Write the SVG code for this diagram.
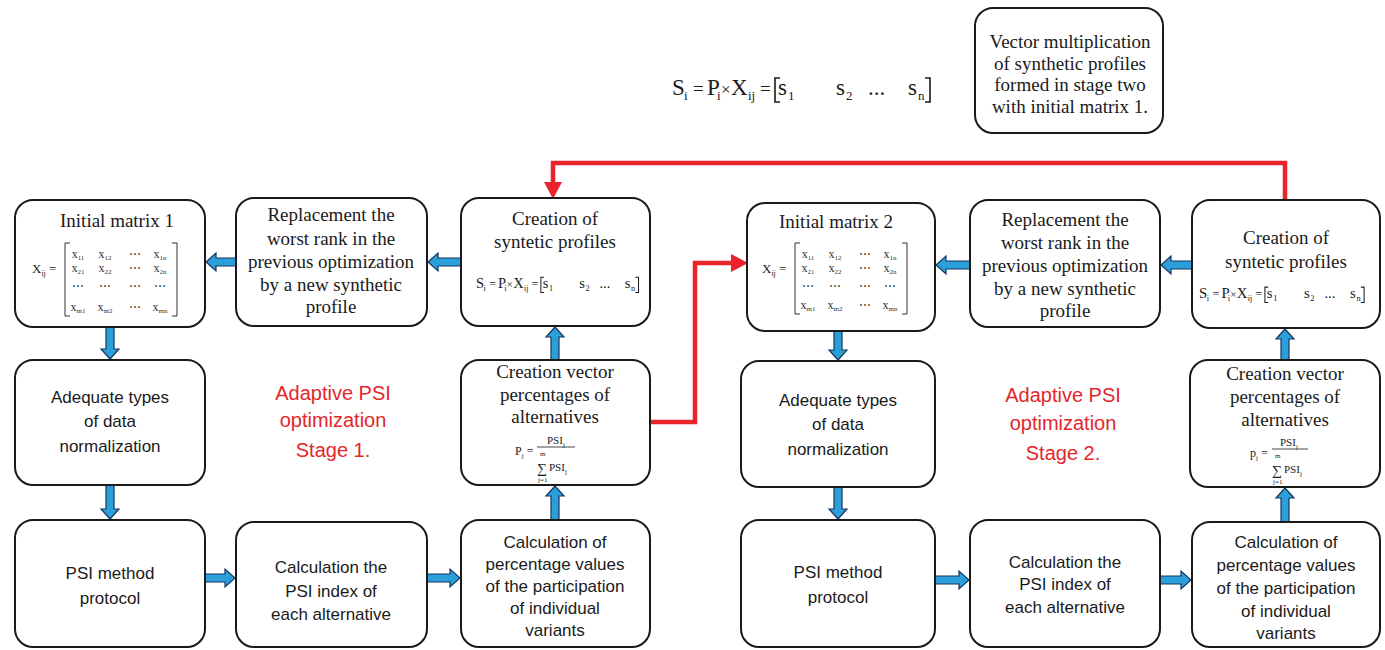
<svg xmlns="http://www.w3.org/2000/svg" width="1385" height="650" viewBox="0 0 1385 650">
<style>
.box{fill:#fff;stroke:#1a1a1a;stroke-width:2}
.sf{font-family:"Liberation Serif","Times New Roman",serif;font-size:19px;fill:#1a1a1a;text-anchor:middle}
.ss{font-family:"Liberation Sans",Arial,sans-serif;font-size:17px;fill:#1a1a1a;text-anchor:middle}
.red{font-family:"Liberation Sans",Arial,sans-serif;font-size:20px;fill:#e3262b;text-anchor:middle}
.m{font-family:"Liberation Serif","DejaVu Serif",serif;font-size:12px;fill:#333;text-anchor:middle}
.f{font-family:"Liberation Serif","DejaVu Serif",serif;fill:#1a1a1a}
.br{fill:none;stroke:#333;stroke-width:1}
.blue{fill:#2b9fda;stroke:#17365f;stroke-width:1.2}
.rl{fill:none;stroke:#e8232a;stroke-width:4.5}
.rh{fill:#e8232a}
</style>
<defs>
<g id="formulaS">
<text class="f" y="0" font-size="23"><tspan x="0">S</tspan><tspan x="12" dy="5" font-size="13">i</tspan><tspan x="21" dy="-5" font-size="19">=</tspan><tspan x="35">P</tspan><tspan x="45" dy="5" font-size="13">i</tspan><tspan x="49" dy="-5" font-size="17">×</tspan><tspan x="59" font-size="23">X</tspan><tspan x="76" dy="5" font-size="13">ij</tspan><tspan x="88" dy="-5" font-size="19">=</tspan><tspan x="106">s</tspan><tspan x="116" dy="5" font-size="13">1</tspan><tspan x="164" dy="-5">s</tspan><tspan x="174" dy="5" font-size="13">2</tspan><tspan x="196" dy="-5">...</tspan><tspan x="236">s</tspan><tspan x="246" dy="5" font-size="13">n</tspan></text>
<path d="M108,-17 H103 V7 H108 M253,-17 H258 V7 H253" fill="none" stroke="#1a1a1a" stroke-width="1.6"/>
</g>
</defs>

<g id="formula-top">
<use href="#formulaS" transform="translate(672,95)"/>
</g>

<g id="note">
<rect class="box" x="975" y="8" width="188" height="125" rx="18"/>
<text class="sf"><tspan x="1070" y="48">Vector multiplication</tspan><tspan x="1070" y="70">of synthetic profiles</tspan><tspan x="1070" y="91">formed in stage two</tspan><tspan x="1070" y="113">with initial matrix 1.</tspan></text>
</g>

<g id="connectors">
<path class="rl" d="M1285,200 V163 H553 V184"/>
<polygon class="rh" points="544,182 562,182 553,199"/>
<path class="rl" d="M650,422 H695 V263 H733"/>
<polygon class="rh" points="731,254 748,263 731,272"/>
<polygon class="blue" points="236,258 216,258 216,253 206,262 216,271 216,266 236,266"/>
<polygon class="blue" points="461,258 438,258 438,253 428,262 438,271 438,266 461,266"/>
<polygon class="blue" points="205,574 225,574 225,569 235,578 225,587 225,582 205,582"/>
<polygon class="blue" points="427,574 450,574 450,569 460,578 450,587 450,582 427,582"/>
<polygon class="blue" points="935,576 959,576 959,571 969,580 959,589 959,584 935,584"/>
<polygon class="blue" points="1160,576 1181,576 1181,571 1191,580 1181,589 1181,584 1160,584"/>
<polygon class="blue" points="1192,261 1171,261 1171,256 1161,265 1171,274 1171,269 1192,269"/>
<polygon class="blue" points="970,261 946,261 946,256 936,265 946,274 946,269 970,269"/>
<polygon class="blue" points="106,327 106,349 101,349 110,359 119,349 114,349 114,327"/>
<polygon class="blue" points="106,485 106,509 101,509 110,519 119,509 114,509 114,485"/>
<polygon class="blue" points="551,520 551,496 546,496 555,486 564,496 559,496 559,520"/>
<polygon class="blue" points="551,360 551,337 546,337 555,327 564,337 559,337 559,360"/>
<polygon class="blue" points="834,331 834,350 829,350 838,360 847,350 842,350 842,331"/>
<polygon class="blue" points="834,487 834,509 829,509 838,519 847,509 842,509 842,487"/>
<polygon class="blue" points="1281,522 1281,498 1276,498 1285,488 1294,498 1289,498 1289,522"/>
<polygon class="blue" points="1281,360 1281,339 1276,339 1285,329 1294,339 1289,339 1289,360"/>
</g>

<g id="initial-matrix-1">
<rect class="box" x="15" y="200" width="190" height="127" rx="18"/>
<text class="sf" x="117" y="227">Initial matrix 1</text>
<text class="f" x="32" y="273" font-size="13">X<tspan font-size="8" dy="3">ij</tspan><tspan dy="-3"> =</tspan></text>
<path class="br" d="M70,243 H65 V316 H70 M172,243 H177 V316 H172"/>
<text class="m"><tspan x="78" y="258">x<tspan font-size="7" dy="2">11</tspan></tspan><tspan x="105" y="258">x<tspan font-size="7" dy="2">12</tspan></tspan><tspan x="135" y="258">⋯</tspan><tspan x="160" y="258">x<tspan font-size="7" dy="2">1n</tspan></tspan></text>
<text class="m"><tspan x="78" y="272">x<tspan font-size="7" dy="2">21</tspan></tspan><tspan x="105" y="272">x<tspan font-size="7" dy="2">22</tspan></tspan><tspan x="135" y="272">⋯</tspan><tspan x="160" y="272">x<tspan font-size="7" dy="2">2n</tspan></tspan></text>
<text class="m"><tspan x="78" y="290">⋯</tspan><tspan x="105" y="290">⋯</tspan><tspan x="135" y="290">⋯</tspan><tspan x="160" y="290">⋯</tspan></text>
<text class="m"><tspan x="78" y="311">x<tspan font-size="7" dy="2">m1</tspan></tspan><tspan x="105" y="311">x<tspan font-size="7" dy="2">m2</tspan></tspan><tspan x="135" y="311">⋯</tspan><tspan x="160" y="311">x<tspan font-size="7" dy="2">mn</tspan></tspan></text>
</g>

<g id="replacement-1">
<rect class="box" x="236" y="198" width="191" height="128" rx="18"/>
<text class="sf"><tspan x="331" y="221">Replacement the</tspan><tspan x="331" y="245">worst rank in the</tspan><tspan x="331" y="268">previous optimization</tspan><tspan x="331" y="291">by a new synthetic</tspan><tspan x="331" y="313">profile</tspan></text>
</g>

<g id="creation-profiles-1">
<rect class="box" x="461" y="198" width="189" height="128" rx="18"/>
<text class="sf"><tspan x="555" y="225">Creation of</tspan><tspan x="555" y="248">syntetic profiles</tspan></text>
<use href="#formulaS" transform="translate(476,288) scale(0.63)"/>
</g>

<g id="adequate-1">
<rect class="box" x="15" y="360" width="190" height="125" rx="18"/>
<text class="ss"><tspan x="110" y="403">Adequate types</tspan><tspan x="110" y="427">of data</tspan><tspan x="110" y="452">normalization</tspan></text>
</g>

<g id="stage-1-label">
<text class="red"><tspan x="333" y="400">Adaptive PSI</tspan><tspan x="333" y="427">optimization</tspan><tspan x="333" y="457">Stage 1.</tspan></text>
</g>

<g id="creation-vector-1">
<rect class="box" x="461" y="360" width="189" height="125" rx="18"/>
<text class="sf"><tspan x="555" y="378">Creation vector</tspan><tspan x="555" y="401">percentages of</tspan><tspan x="555" y="423">alternatives</tspan></text>
<g transform="translate(515,453)">
<text class="f" font-size="12" x="0" y="2">P<tspan font-size="7" dy="3">j</tspan><tspan dy="-3"> =</tspan></text>
<line x1="22" y1="-6" x2="60" y2="-6" stroke="#1a1a1a" stroke-width="0.8"/>
<text class="f" font-size="11" x="32" y="-9">PSI<tspan font-size="7" dy="3">j</tspan></text>
<text class="f" font-size="7" x="25" y="3">m</text>
<text class="f" font-size="14" x="22" y="20">∑</text>
<text class="f" font-size="7" x="23" y="29">j=1</text>
<text class="f" font-size="11" x="34" y="18">PSI<tspan font-size="7" dy="3">j</tspan></text>
</g>
</g>

<g id="psi-method-1">
<rect class="box" x="15" y="520" width="190" height="127" rx="18"/>
<text class="ss" font-size="18"><tspan x="110" y="579">PSI method</tspan><tspan x="110" y="604">protocol</tspan></text>
</g>

<g id="calc-psi-1">
<rect class="box" x="236" y="522" width="191" height="125" rx="18"/>
<text class="ss"><tspan x="331" y="573">Calculation the</tspan><tspan x="331" y="597">PSI index of</tspan><tspan x="331" y="620">each alternative</tspan></text>
</g>

<g id="calc-pct-1">
<rect class="box" x="461" y="520" width="189" height="127" rx="18"/>
<text class="ss"><tspan x="555" y="548">Calculation of</tspan><tspan x="555" y="570">percentage values</tspan><tspan x="555" y="592">of the participation</tspan><tspan x="555" y="614">of individual</tspan><tspan x="555" y="636">variants</tspan></text>
</g>

<g id="initial-matrix-2">
<rect class="box" x="747" y="203" width="188" height="128" rx="18"/>
<text class="sf" x="836" y="228">Initial matrix 2</text>
<g transform="translate(730,0)">
<text class="f" x="32" y="273" font-size="13">X<tspan font-size="8" dy="3">ij</tspan><tspan dy="-3"> =</tspan></text>
<path class="br" d="M70,243 H65 V314 H70 M172,243 H177 V314 H172"/>
<text class="m"><tspan x="78" y="258">x<tspan font-size="7" dy="2">11</tspan></tspan><tspan x="105" y="258">x<tspan font-size="7" dy="2">12</tspan></tspan><tspan x="135" y="258">⋯</tspan><tspan x="160" y="258">x<tspan font-size="7" dy="2">1n</tspan></tspan></text>
<text class="m"><tspan x="78" y="272">x<tspan font-size="7" dy="2">21</tspan></tspan><tspan x="105" y="272">x<tspan font-size="7" dy="2">22</tspan></tspan><tspan x="135" y="272">⋯</tspan><tspan x="160" y="272">x<tspan font-size="7" dy="2">2n</tspan></tspan></text>
<text class="m"><tspan x="78" y="290">⋯</tspan><tspan x="105" y="290">⋯</tspan><tspan x="135" y="290">⋯</tspan><tspan x="160" y="290">⋯</tspan></text>
<text class="m"><tspan x="78" y="309">x<tspan font-size="7" dy="2">m1</tspan></tspan><tspan x="105" y="309">x<tspan font-size="7" dy="2">m2</tspan></tspan><tspan x="135" y="309">⋯</tspan><tspan x="160" y="309">x<tspan font-size="7" dy="2">mn</tspan></tspan></text>
</g>
</g>

<g id="replacement-2">
<rect class="box" x="970" y="200" width="190" height="127" rx="18"/>
<text class="sf"><tspan x="1065" y="226">Replacement the</tspan><tspan x="1065" y="249">worst rank in the</tspan><tspan x="1065" y="272">previous optimization</tspan><tspan x="1065" y="295">by a new synthetic</tspan><tspan x="1065" y="317">profile</tspan></text>
</g>

<g id="creation-profiles-2">
<rect class="box" x="1192" y="200" width="188" height="128" rx="18"/>
<text class="sf"><tspan x="1286" y="244">Creation of</tspan><tspan x="1286" y="268">syntetic profiles</tspan></text>
<use href="#formulaS" transform="translate(1199,298) scale(0.64)"/>
</g>

<g id="adequate-2">
<rect class="box" x="741" y="361" width="194" height="126" rx="18"/>
<text class="ss"><tspan x="838" y="406">Adequate types</tspan><tspan x="838" y="430">of data</tspan><tspan x="838" y="455">normalization</tspan></text>
</g>

<g id="stage-2-label">
<text class="red"><tspan x="1063" y="402">Adaptive PSI</tspan><tspan x="1063" y="430">optimization</tspan><tspan x="1063" y="460">Stage 2.</tspan></text>
</g>

<g id="creation-vector-2">
<rect class="box" x="1190" y="360" width="190" height="127" rx="18"/>
<text class="sf"><tspan x="1285" y="380">Creation vector</tspan><tspan x="1285" y="403">percentages of</tspan><tspan x="1285" y="426">alternatives</tspan></text>
<g transform="translate(1250,455)">
<text class="f" font-size="12" x="0" y="2">p<tspan font-size="7" dy="3">j</tspan><tspan dy="-3"> =</tspan></text>
<line x1="22" y1="-6" x2="58" y2="-6" stroke="#1a1a1a" stroke-width="0.8"/>
<text class="f" font-size="11" x="30" y="-9">PSI<tspan font-size="7" dy="3">j</tspan></text>
<text class="f" font-size="7" x="25" y="3">m</text>
<text class="f" font-size="14" x="22" y="20">∑</text>
<text class="f" font-size="7" x="23" y="29">j=1</text>
<text class="f" font-size="11" x="34" y="18">PSI<tspan font-size="7" dy="3">j</tspan></text>
</g>
</g>

<g id="psi-method-2">
<rect class="box" x="741" y="520" width="194" height="127" rx="18"/>
<text class="ss" font-size="18"><tspan x="838" y="578">PSI method</tspan><tspan x="838" y="603">protocol</tspan></text>
</g>

<g id="calc-psi-2">
<rect class="box" x="970" y="520" width="190" height="127" rx="18"/>
<text class="ss"><tspan x="1065" y="568">Calculation the</tspan><tspan x="1065" y="590">PSI index of</tspan><tspan x="1065" y="613">each alternative</tspan></text>
</g>

<g id="calc-pct-2">
<rect class="box" x="1192" y="522" width="188" height="125" rx="18"/>
<text class="ss"><tspan x="1286" y="548">Calculation of</tspan><tspan x="1286" y="571">percentage values</tspan><tspan x="1286" y="594">of the participation</tspan><tspan x="1286" y="617">of individual</tspan><tspan x="1286" y="639">variants</tspan></text>
</g>
</svg>
